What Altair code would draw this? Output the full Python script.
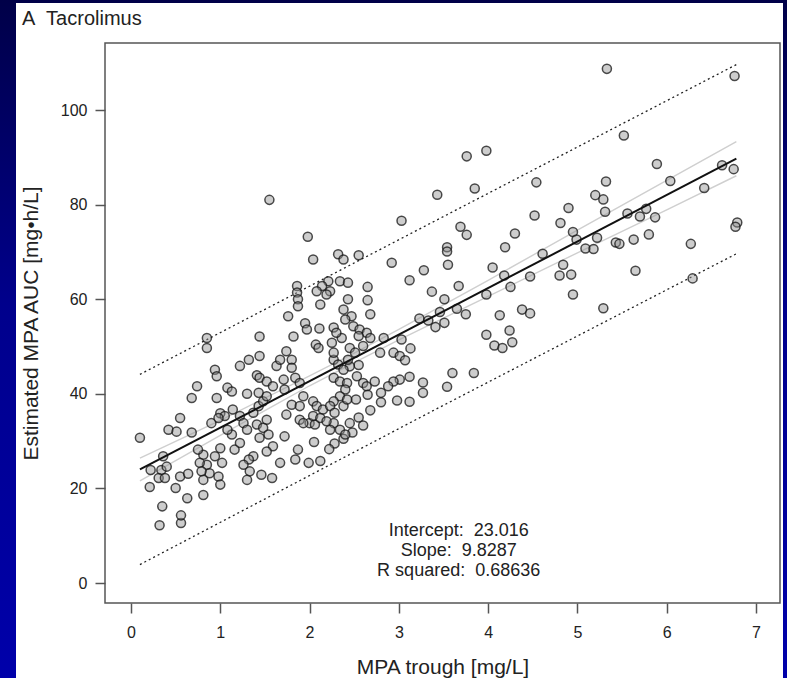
import altair as alt
import pandas as pd

# ---- scatter data (MPA trough [mg/L], estimated MPA AUC [mg*h/L]) ----
pts = [
    (5.33,108.7),(6.76,107.2),(5.52,94.6),(3.98,91.4),(3.76,90.2),(5.89,88.6),(6.62,88.3),(6.75,87.5),
    (5.32,84.9),(6.04,85.0),(6.42,83.5),(3.43,82.1),(3.85,83.4),(4.54,84.7),(5.20,82.0),(5.29,81.1),
    (5.31,78.5),(4.90,79.3),(4.52,77.7),(4.81,76.1),(5.56,78.1),(5.70,77.5),(5.77,79.1),(5.87,77.3),
    (6.79,76.2),(6.77,75.3),(3.03,76.6),(2.55,69.3),(3.69,75.3),(3.76,73.6),(4.30,73.9),(4.95,74.2),
    (4.99,72.6),(5.22,73.0),(5.43,72.0),(5.47,71.7),(5.63,72.6),(5.80,73.7),(6.27,71.7),(5.09,70.7),
    (5.18,70.6),(4.19,71.0),(4.61,69.6),(3.54,71.0),(3.54,70.1),(2.92,67.7),(3.55,67.3),(3.28,66.1),
    (4.05,66.7),(4.84,67.3),(4.80,65.0),(4.93,65.2),(5.65,66.0),(4.18,65.0),(4.47,64.8),(6.29,64.4),
    (3.12,64.0),(2.65,62.6),(2.65,59.8),(3.37,61.6),(3.67,62.8),(4.25,62.6),(3.51,60.0),(3.98,61.0),
    (4.95,61.0),(5.29,58.1),(2.68,56.8),(3.46,57.3),(3.65,58.0),(3.75,56.8),(4.13,56.6),(4.38,57.8),
    (4.47,57.0),(3.23,55.9),(3.33,55.5),(3.41,54.1),(3.51,55.0),(3.98,52.5),(4.24,53.4),(4.27,50.9),
    (4.07,50.2),(4.16,49.7),(3.03,51.5),(3.13,49.6),(2.83,51.8),(2.94,48.7),(3.01,48.0),(3.07,47.1),
    (2.79,48.7),(3.60,44.4),(3.84,44.4),(3.54,41.5),(3.12,43.6),(3.01,43.0),(2.94,42.6),(3.27,42.4),
    (3.27,40.2),(2.88,41.6),(2.80,40.2),(2.55,46.1),(2.53,43.7),(2.60,42.3),(2.64,41.6),
    (1.55,81.0),(1.98,73.2),
    (2.47,56.4),(2.49,54.3),(2.56,53.6),(2.64,52.9),(2.55,52.2),(2.68,51.8),(2.45,49.7),(2.51,48.7),
    (2.60,50.1),(2.45,45.8),(2.73,42.6),
    (2.55,35.0),(2.68,36.5),(2.80,38.2),(2.98,38.6),(3.12,38.3),(2.60,33.3),(2.48,31.8),(2.38,30.5),
    (2.28,29.5),(2.52,38.8),(2.65,39.8),(2.12,25.8),(2.22,28.3),(2.05,29.8),
    (2.04,68.4),(2.32,69.5),(2.38,68.4),(2.21,63.8),(2.34,63.8),(2.14,62.8),(2.23,61.7),(2.19,61.0),
    (1.86,62.8),(1.86,61.4),(1.87,60.0),(1.87,58.5),(2.08,61.7),(2.38,57.8),(2.40,55.7),(1.76,56.4),
    (0.85,51.8),(0.85,49.7),(1.44,52.1),(1.82,52.1),(1.95,54.9),(1.97,53.6),(2.11,53.8),(2.07,50.4),
    (2.10,49.7),(2.36,51.8),(0.10,30.7),(0.22,23.9),(0.34,23.9),(0.31,22.2),(0.38,22.2),(0.21,20.3),
    (0.55,34.9),(0.42,32.4),(0.51,32.0),(0.68,31.8),(0.36,26.8),(0.40,24.6),(0.55,22.5),(0.64,23.1),
    (0.50,20.1),(0.63,17.9),(0.81,18.6),(0.74,41.6),(0.68,39.1),(0.94,45.1),(0.96,43.7),(1.08,41.3),
    (1.13,40.5),(0.96,39.1),(0.90,33.8),(1.00,35.9),(1.05,35.3),(0.98,34.9),(1.22,45.9),(1.32,47.2),
    (1.44,48.0),(1.41,43.9),(1.44,43.4),(1.30,40.0),(1.43,40.2),(1.52,42.6),(1.63,45.9),(1.67,47.2),
    (1.74,49.0),(1.80,47.2),(1.80,45.5),(1.84,43.4),(1.89,42.3),(1.71,43.0),(1.59,41.6),(1.72,40.9),
    (1.93,39.5),(2.04,38.4),(2.08,37.4),(2.15,36.7),(2.00,33.8),(2.06,33.5),(1.80,37.7),(1.89,37.4),
    (1.74,35.6),(1.89,34.5),(1.93,33.8),(1.72,31.0),(1.52,34.5),(1.41,33.5),(1.48,32.8),(1.54,31.4),
    (1.44,30.7),(1.59,28.9),(1.52,27.8),(1.87,28.2),(1.84,26.1),(1.99,25.4),(1.67,25.4),(1.37,26.8),
    (1.32,26.1),(1.26,25.0),(1.33,23.6),(1.46,22.9),(1.30,21.8),(1.22,29.6),(1.16,28.2),(1.13,31.4),
    (1.08,32.4),(1.00,28.5),(0.94,26.8),(1.02,25.4),(0.81,27.1),(0.85,25.0),(0.88,23.2),(0.75,28.2),
    (0.77,25.4),(0.79,23.6),(0.81,21.8),(0.98,22.5),(1.00,20.8),(1.14,36.7),(1.22,35.3),(1.26,33.8),
    (1.30,32.4),(1.37,36.0),(1.43,37.4),(1.48,38.4),(1.52,39.5),
    (2.27,47.2),(2.32,46.2),(2.38,45.1),(2.43,47.2),(2.27,43.4),(2.34,42.6),(2.42,42.3),(2.40,40.9),
    (2.34,39.5),(2.27,38.4),(2.23,37.4),(2.28,36.0),(2.38,37.4),(2.42,38.8),(2.27,33.8),(2.34,32.4),
    (2.45,33.8),(2.40,31.4),(2.23,32.4),(2.04,35.3),(2.12,34.9),(2.19,34.2),(2.27,54.0),(2.30,52.9),
    (2.25,50.8),(2.27,48.7),(2.12,58.9),(2.43,63.5),(2.43,60.0),
    (0.32,12.2),(0.56,12.7),(0.56,14.3),(0.35,16.2),(1.58,22.2),
]
trough = [p[0] for p in pts]
auc = [p[1] for p in pts]

# ---- regression fit and bands ----
fit_x = [0.1, 6.78]
fit_y = [24.0, 89.7]
ci_x = [0.1, 1.0, 2.0, 2.5, 3.0, 4.0, 5.0, 6.0, 6.78]
ci_upper = [26.4, 34.4, 43.8, 48.6, 53.6, 64.0, 74.6, 85.1, 93.3]
ci_lower = [21.6, 31.2, 41.7, 46.6, 51.4, 60.6, 69.8, 78.9, 86.1]
pi_x = [0.1, 3.4, 6.78]
pi_upper = [44.1, 76.5, 109.6]
pi_lower = [3.9, 36.6, 69.6]

NB = "\u00a0"
ann_x = [3.67, 3.67, 3.67]
ann_y = [9.96, 5.72, 1.48]
ann_text = ["Intercept:" + NB + " 23.016", "Slope:" + NB + " 9.8287", "R squared:" + NB + " 0.68636"]
panel_title = "A" + NB + " Tacrolimus"

x_ticks = [0, 1, 2, 3, 4, 5, 6, 7]
y_ticks = [0, 20, 40, 60, 80, 100]

W, H = 675, 560
PL, PT, PR, PB = 105, 43, 7, 75
FONT = "Liberation Sans"

df_pts = pd.DataFrame({"trough": trough, "auc": auc})
df_fit = pd.DataFrame({"trough": fit_x, "auc": fit_y})
df_ci = pd.concat([
    pd.DataFrame({"trough": ci_x, "auc": ci_upper, "band": "upper"}),
    pd.DataFrame({"trough": ci_x, "auc": ci_lower, "band": "lower"}),
])
df_pi = pd.concat([
    pd.DataFrame({"trough": pi_x, "auc": pi_upper, "band": "upper"}),
    pd.DataFrame({"trough": pi_x, "auc": pi_lower, "band": "lower"}),
])
df_ann = pd.DataFrame({"trough": ann_x, "auc": ann_y, "label": ann_text})
one = pd.DataFrame({"a": [0]})

xscale = alt.Scale(domain=[(PL - 131) / 89.286, (PL + W - 131) / 89.286], nice=False, zero=False)
yscale = alt.Scale(domain=[(583 - PT - H) / 4.73, (583 - PT) / 4.73], nice=False, zero=False)

xaxis = alt.Axis(values=x_ticks, title="MPA trough [mg/L]", grid=False, domain=False,
                 tickSize=10, tickColor="#555", tickWidth=1.5, labelFontSize=16, labelFont=FONT,
                 labelColor="#222", labelPadding=11, titleFont=FONT, titleFontSize=21,
                 titleFontWeight="normal", titleColor="#222", titleBaseline="alphabetic",
                 titleY=70, titleX=W / 2, titleAlign="center", zindex=1, labelFlush=False)
yaxis = alt.Axis(values=y_ticks, title="Estimated MPA AUC [mg\u2022h/L]", grid=False, domain=False,
                 tickSize=10, tickColor="#555", tickWidth=1.5, labelFontSize=16, labelFont=FONT,
                 labelColor="#222", labelPadding=8, titleFont=FONT, titleFontSize=21,
                 titleFontWeight="normal", titleColor="#222", titleBaseline="alphabetic",
                 titleX=-68, titleY=H / 2, titleAlign="center", titleAngle=270, zindex=1,
                 labelFlush=False)

def xe():
    return alt.X("trough:Q", scale=xscale, axis=xaxis)

def ye():
    return alt.Y("auc:Q", scale=yscale, axis=yaxis)

bg = alt.Chart(one).mark_rect(
    color=alt.LinearGradient(gradient="linear", x1=0, y1=0, x2=0, y2=1,
                             stops=[alt.GradientStop(color="#000048", offset=0),
                                    alt.GradientStop(color="#00008c", offset=0.45),
                                    alt.GradientStop(color="#0000aa", offset=1)])
).encode(x=alt.value(-PL), x2=alt.value(W + PR), y=alt.value(-PT), y2=alt.value(H + PB))

panel = alt.Chart(one).mark_rect(color="white").encode(
    x=alt.value(16 - PL), x2=alt.value(783 - PL), y=alt.value(3 - PT), y2=alt.value(H + PB + 5))

box = alt.Chart(one).mark_rect(fillOpacity=0, stroke="#555", strokeWidth=1.5).encode(
    x=alt.value(0), x2=alt.value(W), y=alt.value(0), y2=alt.value(H))

points = alt.Chart(df_pts).mark_point(
    shape="circle", filled=True, size=82, fill="#909090", fillOpacity=0.45,
    stroke="#111", strokeOpacity=0.75, strokeWidth=1.5
).encode(x=xe(), y=ye())

pi_lines = alt.Chart(df_pi).mark_line(color="#222", strokeWidth=1.3, strokeDash=[2, 3]).encode(
    x=xe(), y=ye(), detail="band:N")
ci_lines = alt.Chart(df_ci).mark_line(color="#cfcfcf", strokeWidth=1.4).encode(
    x=xe(), y=ye(), detail="band:N")
fit_line = alt.Chart(df_fit).mark_line(color="#111", strokeWidth=2).encode(x=xe(), y=ye())

ann = alt.Chart(df_ann).mark_text(font=FONT, fontSize=18, color="#222", align="center",
                                  baseline="alphabetic").encode(x=xe(), y=ye(), text="label:N")

title = alt.Chart(one).mark_text(font=FONT, fontSize=20, color="#222", align="left",
                                 baseline="alphabetic").encode(
    x=alt.value(22 - PL), y=alt.value(25 - PT), text=alt.value(panel_title))

chart = alt.layer(bg, panel, pi_lines, ci_lines, points, fit_line, ann, title, box).properties(
    width=W, height=H,
    padding={"left": PL, "top": PT, "right": PR, "bottom": PB},
    autosize=alt.AutoSizeParams(type="none"),
    background="#000080",
).configure_view(stroke=None)

chart.save("out.html", embed_options={"renderer": "svg", "actions": False})
